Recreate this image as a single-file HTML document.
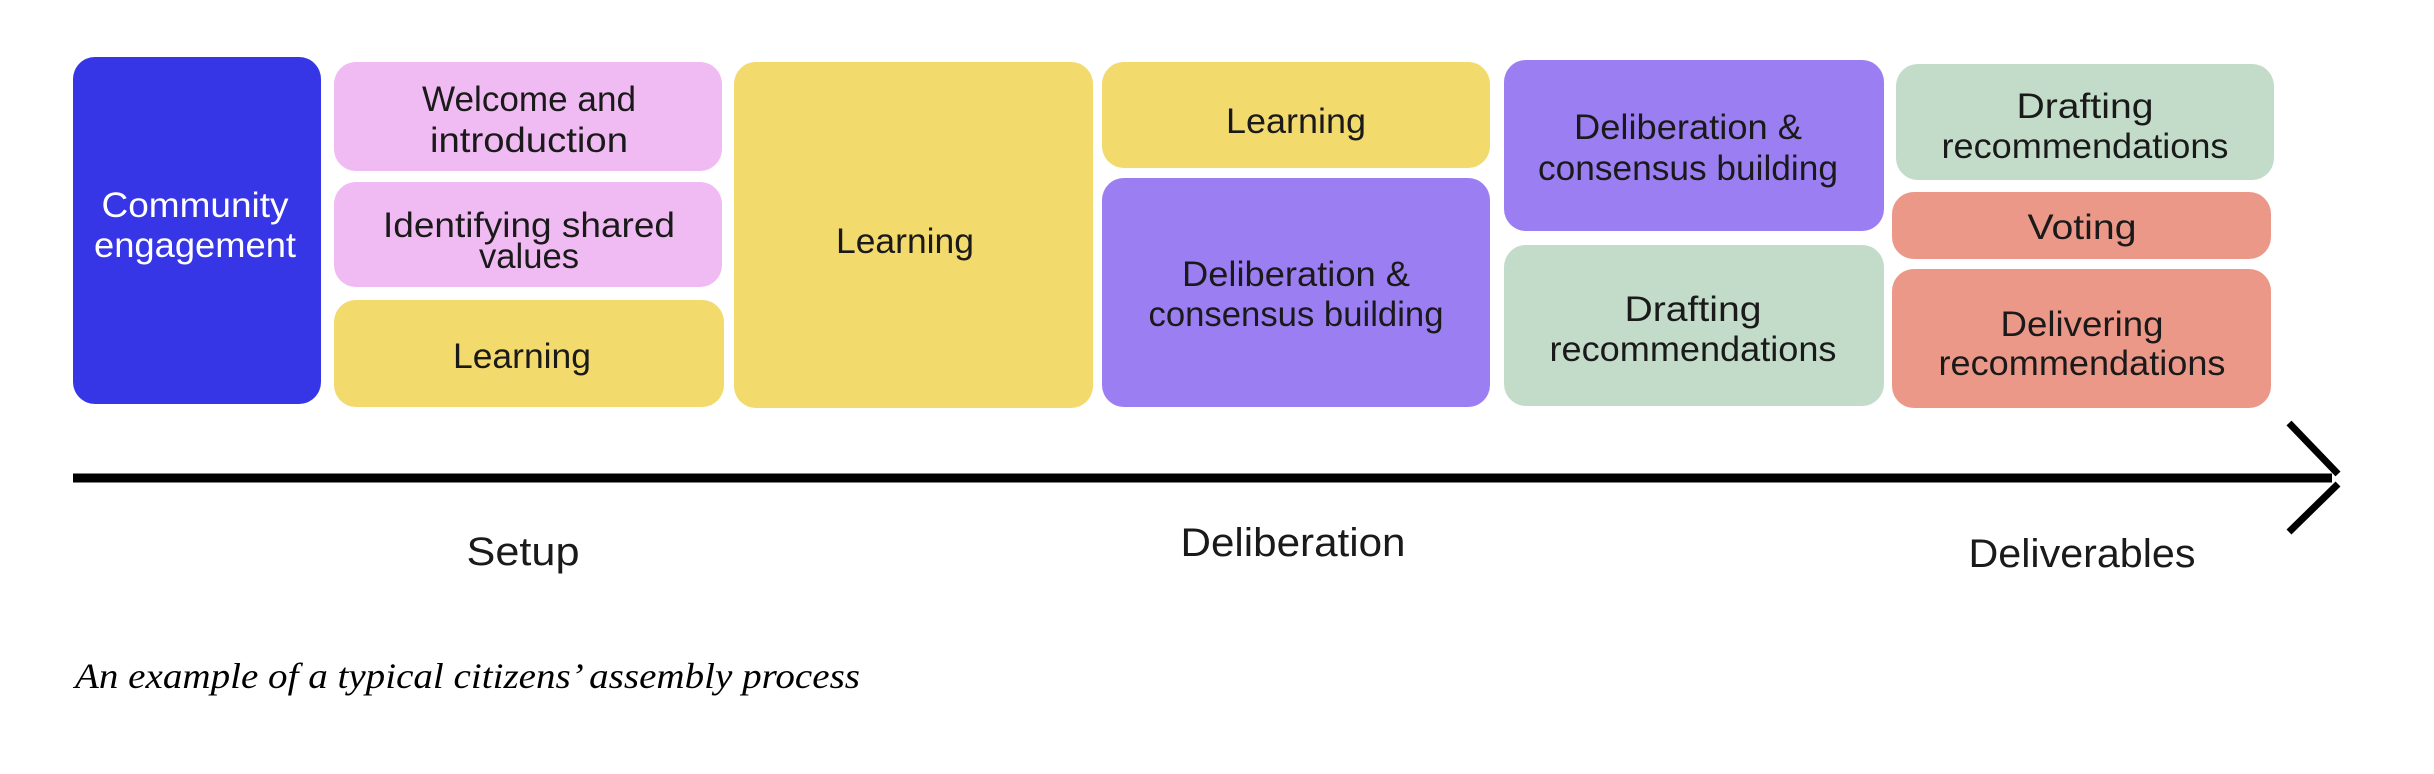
<!DOCTYPE html>
<html><head><meta charset="utf-8"><style>
html,body{margin:0;padding:0;background:#fff;}
svg{display:block;}
.t{font-family:"Liberation Sans",sans-serif;font-size:35px;fill:#1a1a1a;text-anchor:middle;}
.l{font-family:"Liberation Sans",sans-serif;font-size:40px;fill:#1a1a1a;text-anchor:middle;}
</style></head><body>
<svg width="2434" height="774" viewBox="0 0 2434 774" xmlns="http://www.w3.org/2000/svg">
<rect x="73" y="57" width="248" height="347" rx="22" fill="#3636e6"/>
<rect x="334" y="62" width="388" height="109" rx="22" fill="#f0baf2"/>
<rect x="334" y="182" width="388" height="105" rx="22" fill="#f0baf2"/>
<rect x="334" y="300" width="390" height="107" rx="22" fill="#f3da6c"/>
<rect x="734" y="62" width="359" height="346" rx="22" fill="#f3da6c"/>
<rect x="1102" y="62" width="388" height="106" rx="22" fill="#f3da6c"/>
<rect x="1102" y="178" width="388" height="229" rx="22" fill="#9b7ff2"/>
<rect x="1504" y="60" width="380" height="171" rx="22" fill="#9b7ff2"/>
<rect x="1504" y="245" width="380" height="161" rx="22" fill="#c3dcc9"/>
<rect x="1896" y="64" width="378" height="116" rx="22" fill="#c3dcc9"/>
<rect x="1892" y="192" width="379" height="67" rx="22" fill="#ec9888"/>
<rect x="1892" y="269" width="379" height="139" rx="22" fill="#ec9888"/>

<g lengthAdjust="spacingAndGlyphs">
<text class="t" x="195" y="217" textLength="187" lengthAdjust="spacingAndGlyphs" style="fill:#fff">Community</text>
<text class="t" x="195" y="257" textLength="202" lengthAdjust="spacingAndGlyphs" style="fill:#fff">engagement</text>
<text class="t" x="529" y="111" textLength="214" lengthAdjust="spacingAndGlyphs">Welcome and</text>
<text class="t" x="529" y="152" textLength="198" lengthAdjust="spacingAndGlyphs">introduction</text>
<text class="t" x="529" y="237" textLength="292" lengthAdjust="spacingAndGlyphs">Identifying shared</text>
<text class="t" x="529" y="268" textLength="100" lengthAdjust="spacingAndGlyphs">values</text>
<text class="t" x="522" y="368" textLength="138" lengthAdjust="spacingAndGlyphs">Learning</text>
<text class="t" x="905" y="253" textLength="138" lengthAdjust="spacingAndGlyphs">Learning</text>
<text class="t" x="1296" y="133" textLength="140" lengthAdjust="spacingAndGlyphs">Learning</text>
<text class="t" x="1296" y="286" textLength="228" lengthAdjust="spacingAndGlyphs">Deliberation &amp;</text>
<text class="t" x="1296" y="326" textLength="295" lengthAdjust="spacingAndGlyphs">consensus building</text>
<text class="t" x="1688" y="139" textLength="228" lengthAdjust="spacingAndGlyphs">Deliberation &amp;</text>
<text class="t" x="1688" y="180" textLength="300" lengthAdjust="spacingAndGlyphs">consensus building</text>
<text class="t" x="1693" y="321" textLength="137" lengthAdjust="spacingAndGlyphs">Drafting</text>
<text class="t" x="1693" y="361" textLength="287" lengthAdjust="spacingAndGlyphs">recommendations</text>
<text class="t" x="2085" y="118" textLength="137" lengthAdjust="spacingAndGlyphs">Drafting</text>
<text class="t" x="2085" y="158" textLength="287" lengthAdjust="spacingAndGlyphs">recommendations</text>
<text class="t" x="2082" y="239" textLength="109" lengthAdjust="spacingAndGlyphs">Voting</text>
<text class="t" x="2082" y="336" textLength="163" lengthAdjust="spacingAndGlyphs">Delivering</text>
<text class="t" x="2082" y="375" textLength="287" lengthAdjust="spacingAndGlyphs">recommendations</text>
</g>

<line x1="73" y1="478" x2="2332" y2="478" stroke="#000" stroke-width="9"/>
<line x1="2289" y1="423" x2="2338" y2="474" stroke="#000" stroke-width="7"/>
<line x1="2338" y1="484" x2="2289" y2="532" stroke="#000" stroke-width="7"/>

<text class="l" x="523" y="565" textLength="113" lengthAdjust="spacingAndGlyphs">Setup</text>
<text class="l" x="1293" y="556" textLength="225" lengthAdjust="spacingAndGlyphs">Deliberation</text>
<text class="l" x="2082" y="567" textLength="227" lengthAdjust="spacingAndGlyphs">Deliverables</text>

<text x="75" y="688" font-family="Liberation Serif, serif" font-style="italic" font-size="36" fill="#000" textLength="785" lengthAdjust="spacingAndGlyphs">An example of a typical  citizens’ assembly process</text>
</svg>
</body></html>
